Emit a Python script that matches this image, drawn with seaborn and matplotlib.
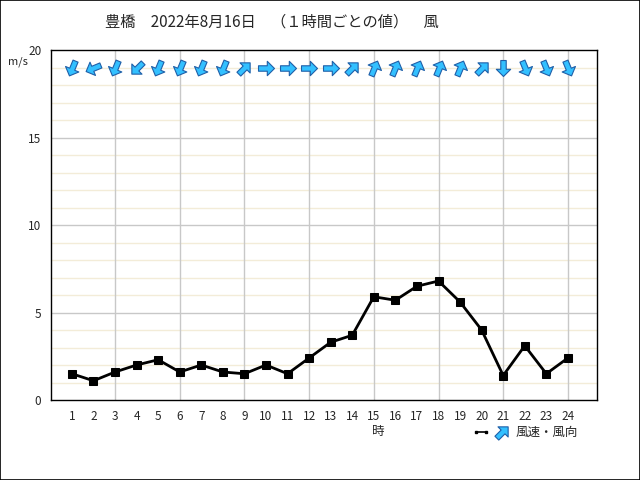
import numpy as np
import matplotlib
matplotlib.use("Agg")
import matplotlib.pyplot as plt
import seaborn as sns
from matplotlib.markers import MarkerStyle
from matplotlib.path import Path
from matplotlib.transforms import Affine2D
from matplotlib.patches import Rectangle

# 1時間ごとの値
hours = list(range(1, 25))
speed = [1.5, 1.1, 1.6, 2.0, 2.3, 1.6, 2.0, 1.6, 1.5, 2.0, 1.5, 2.4,
         3.3, 3.7, 5.9, 5.7, 6.5, 6.8, 5.6, 4.0, 1.4, 3.1, 1.5, 2.4]
# 風向 (吹いてくる方向)
wind_from = ["北北東", "東北東", "北北東", "北東", "北北東", "北北東", "北北東", "北北東",
             "南西", "西", "西", "西", "西", "南西", "南南西", "南南西",
             "南南西", "南南西", "南南西", "南西", "北", "北北西", "北北西", "北北西"]
compass = ["北", "北北東", "北東", "東北東", "東", "東南東", "南東", "南南東",
           "南", "南南西", "南西", "西南西", "西", "西北西", "北西", "北北西"]

title = "豊橋　2022年8月16日　（１時間ごとの値）　風"

sns.set_style("white")
plt.rcParams["font.family"] = ["Noto Sans CJK JP", "DejaVu Sans"]

fig = plt.figure(figsize=(6.4, 4.8), dpi=100)
ax = fig.add_axes([51 / 640, 80 / 480, 546 / 640, 350 / 480])

# grid
for v in range(1, 20):
    if v % 5:
        ax.axhline(v, color="#f3ecd8", lw=1, zorder=0)
for v in (5, 10, 15):
    ax.axhline(v, color="#c8c8c8", lw=1, zorder=0)
for h in range(3, 25, 3):
    ax.axvline(h, color="#c8c8c8", lw=1, zorder=0)

sns.lineplot(x=hours, y=speed, ax=ax, color="black", lw=2, marker="s",
             markersize=6, markeredgecolor="black", zorder=3)

# arrow marker pointing up
arrow = Path([(-0.17, -0.5), (-0.17, 0.05), (-0.45, 0.05), (0, 0.5),
              (0.45, 0.05), (0.17, 0.05), (0.17, -0.5), (-0.17, -0.5)],
             [Path.MOVETO] + [Path.LINETO] * 6 + [Path.CLOSEPOLY])
for h, d in zip(hours, wind_from):
    to_deg = (compass.index(d) * 22.5 + 180) % 360
    m = MarkerStyle(arrow, transform=Affine2D().rotate_deg(-to_deg))
    ax.plot(h, 19, marker=m, markersize=11.5, color="#33c0ff",
            markeredgecolor="#1f5fa8", markeredgewidth=0.8, zorder=4)

ax.set_xlim(0.03, 25.35)
ax.set_ylim(0, 20)
ax.set_xticks(hours)
ax.set_yticks([0, 5, 10, 15, 20])
ax.tick_params(length=0, labelsize=8.5, pad=7)
for s in ax.spines.values():
    s.set_color("black")
    s.set_linewidth(1)

fig.text(272 / 640, 1 - 22 / 480, title, ha="center", va="center", fontsize=11)
fig.text(18 / 640, 1 - 62 / 480, "m/s", ha="center", va="center", fontsize=8)
fig.text(378 / 640, 1 - 432 / 480, "時", ha="center", va="center", fontsize=9)

# legend
lx, ly = 476 / 640, 1 - 432 / 480
fig.add_artist(plt.Line2D([lx, lx + 10 / 640], [ly, ly], color="black", lw=1.2,
                          marker="s", markersize=2, markevery=[0, 1]))
fig.add_artist(plt.Line2D([502 / 640], [ly], marker=MarkerStyle(arrow, transform=Affine2D().rotate_deg(-45)),
                          markersize=11.5, color="#33c0ff", markeredgecolor="#1f5fa8", markeredgewidth=0.8))
fig.text(516 / 640, ly, "風速・風向", ha="left", va="center", fontsize=9)

fig.add_artist(Rectangle((0, 0), 1, 1, transform=fig.transFigure, fill=False,
                         edgecolor="black", lw=1.2))

fig.savefig("out.png", dpi=100)
